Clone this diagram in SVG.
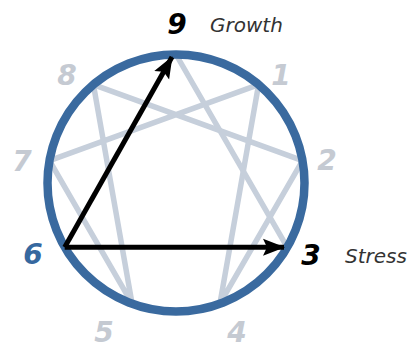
<svg xmlns="http://www.w3.org/2000/svg" width="414" height="349" viewBox="0 0 414 349">
<defs>
<style>
.hex{fill:none;stroke:#c6cfdb;stroke-width:5.5;stroke-linecap:round;stroke-linejoin:round}
.ring{fill:none;stroke:#3a6a9f;stroke-width:8.5}
.arr{fill:none;stroke:#000;stroke-width:5}
.num{font-family:"DejaVu Sans",Verdana,sans-serif;font-weight:bold;font-style:italic;font-size:28px;text-anchor:middle}
.dim{fill:#c5cad2}
.lbl{font-family:"DejaVu Sans",Verdana,sans-serif;font-style:italic;font-size:20px;fill:#333}
</style>
<marker id="ah" markerUnits="userSpaceOnUse" markerWidth="24" markerHeight="20" refX="21" refY="10" orient="auto">
<polygon points="0,1.5 22,10 0,18.5 4,10" fill="#000"/>
</marker>
</defs>
<g id="figure">
<polyline class="hex" points="258.6,84.6 219.9,303.7 302.5,160.7 93.4,84.6 132.1,303.7 49.5,160.7 258.6,84.6"/>
<line class="hex" x1="176" y1="54.5" x2="287.3" y2="247.3"/>
</g>
<g id="ring"><circle class="ring" cx="176" cy="183" r="128.5"/></g>
<g id="connectors">
<line class="arr" x1="64.7" y1="247.3" x2="172" y2="57" marker-end="url(#ah)"/>
<line class="arr" x1="64.7" y1="247.3" x2="284" y2="247.3" marker-end="url(#ah)"/>
</g>
<g id="node-9"><text class="num" x="177" y="34" fill="#000">9</text><text class="lbl" x="210" y="32">Growth</text></g>
<g id="node-3"><text class="num" x="311" y="265" fill="#000">3</text><text class="lbl" x="345" y="263">Stress</text></g>
<g id="node-6"><text class="num" x="33" y="264" fill="#36689f">6</text></g>
<g id="node-1"><text class="num dim" x="281" y="85">1</text></g>
<g id="node-2"><text class="num dim" x="327" y="170">2</text></g>
<g id="node-4"><text class="num dim" x="237" y="342">4</text></g>
<g id="node-5"><text class="num dim" x="104" y="342">5</text></g>
<g id="node-7"><text class="num dim" x="22" y="171">7</text></g>
<g id="node-8"><text class="num dim" x="67" y="85">8</text></g>
</svg>
